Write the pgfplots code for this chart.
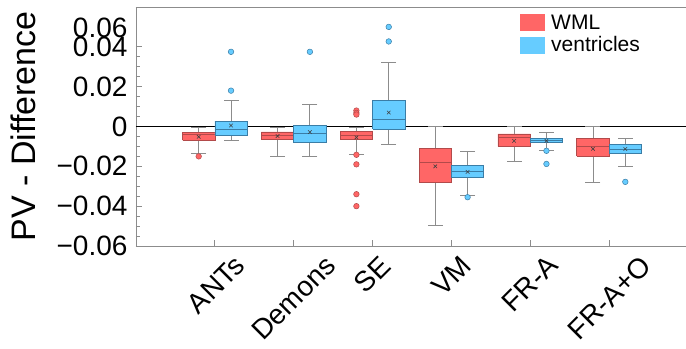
\documentclass[border=0pt]{standalone}
\usepackage{fontspec}
\setmainfont{Liberation Sans}
\usepackage{pgfplots}
\pgfplotsset{compat=1.18}
\definecolor{wred}{HTML}{FF6666}
\definecolor{wredD}{HTML}{B24A4A}
\definecolor{vblue}{HTML}{66CCFF}
\definecolor{vblueD}{HTML}{3A7DA6}
\definecolor{axgray}{HTML}{8C8C8C}
\definecolor{meanc}{HTML}{404040}
% #1 colour, #2 left, #3 centre, #4 right, #5 lower whisker, #6 q1, #7 median, #8 q3, #9 upper whisker
\newcommand{\bp}[9]{%
 \addplot[axgray, line width=0.8pt, forget plot] coordinates {(#3,#5) (#3,#9)};
 \addplot[axgray, line width=0.8pt, only marks, mark=-, mark size=7.5pt, forget plot] coordinates {(#3,#5) (#3,#9)};
 \addplot[fill=#1, draw=#1D, line width=0.7pt, forget plot] coordinates {(#2,#6) (#4,#6) (#4,#8) (#2,#8) (#2,#6)};
 \addplot[draw=#1D, line width=1pt, forget plot] coordinates {(#2,#7) (#4,#7)};
}
\begin{document}
\begin{tikzpicture}
\begin{axis}[
  name=ax,
  scale only axis,
  width=552pt, height=239pt,
  xmin=0, xmax=7, ymin=-0.06, ymax=0.06,
  axis x line*=box, axis y line*=left,
  axis line style={axgray, line width=0.8pt},
  tick style={axgray, line width=0.8pt},
  tick align=inside,
  major tick length=6pt, minor tick length=4pt,
  xtick={1,2,3,4,5,6},
  xticklabels={ANTs,Demons,SE,VM,FR-A,FR-A+O},
  xticklabel style={xshift={{17.7,29.7,6,7.8,15.9,29.5}[\ticknum]}, yshift=-5pt, rotate=45, anchor=north east, font=\fontsize{28}{32}\selectfont, inner sep=2pt},
  xtick pos=bottom,
  ytick={-0.06,-0.04,-0.02,0,0.02,0.04},
  yticklabels={−0.06,−0.04,−0.02,0,0.02,0.04},
  extra y ticks={0.06},
  extra y tick labels={0.06},
  extra y tick style={yticklabel style={yshift=-21pt}},
  yticklabel style={font=\fontsize{28}{32}\selectfont, xshift=-5pt},
  minor y tick num=3,
  ytick pos=left,
  ylabel={PV - Difference},
  every axis y label/.style={at={(axis description cs:0,0.5)}, xshift=-113pt, rotate=90, anchor=center, font=\fontsize{34}{38}\selectfont},
  legend style={at={(rel axis cs:0.692,0.985)}, anchor=north west, draw=none, fill=none,
    font=\fontsize{21}{25}\selectfont, row sep=2pt, column sep=4pt, inner sep=2pt},
  legend cell align=left,
  legend image code/.code={\fill[#1, draw=none] (0pt,-8.5pt) rectangle (25pt,8.5pt);},
]
\addlegendimage{fill=wred}
\addlegendentry{WML}
\addlegendimage{fill=vblue}
\addlegendentry{ventricles}

\addplot[black, line width=1.6pt, forget plot] coordinates {(0,0) (7,0)};

% WML
\bp{wred}{0.59}{0.795}{1.0}{-0.0135}{-0.0070}{-0.0040}{-0.0028}{-0.0005}
\bp{wred}{1.59}{1.795}{2.0}{-0.0150}{-0.0067}{-0.0045}{-0.0027}{-0.0005}
\bp{wred}{2.59}{2.795}{3.0}{-0.0138}{-0.0067}{-0.0045}{-0.0023}{-0.0005}
\bp{wred}{3.59}{3.795}{4.0}{-0.0497}{-0.0282}{-0.0180}{-0.0110}{0.0}
\bp{wred}{4.59}{4.795}{5.0}{-0.0177}{-0.0100}{-0.0053}{-0.0037}{0.0}
\bp{wred}{5.59}{5.795}{6.0}{-0.0282}{-0.0150}{-0.0098}{-0.0058}{0.0}
% ventricles
\bp{vblue}{1.0}{1.205}{1.41}{-0.0072}{-0.0042}{-0.0015}{0.0027}{0.0130}
\bp{vblue}{2.0}{2.205}{2.41}{-0.0150}{-0.0082}{-0.0037}{0.0007}{0.0110}
\bp{vblue}{3.0}{3.205}{3.41}{-0.0088}{-0.0012}{0.0035}{0.0130}{0.0320}
\bp{vblue}{4.0}{4.205}{4.41}{-0.0348}{-0.0257}{-0.0227}{-0.0195}{-0.0123}
\bp{vblue}{5.0}{5.205}{5.41}{-0.0118}{-0.0082}{-0.0070}{-0.0060}{-0.0028}
\bp{vblue}{6.0}{6.205}{6.41}{-0.0202}{-0.0133}{-0.0113}{-0.0092}{-0.0062}

% means
\addplot[only marks, mark=x, mark size=2.5pt, color=meanc, mark options={line width=0.6pt}, forget plot] coordinates {
 (0.795,-0.0052) (1.795,-0.0048) (2.795,-0.0055) (3.795,-0.0200) (4.795,-0.0072) (5.795,-0.0112)
 (1.205,0.0005) (2.205,-0.0028) (3.205,0.0070) (4.205,-0.0228) (5.205,-0.0072) (6.205,-0.0113)};

% outliers
\addplot[only marks, mark=*, mark size=2.8pt, mark options={fill=wred, draw=wredD, line width=0.5pt}, forget plot] coordinates {
 (0.795,-0.0150)
 (2.795,0.0080) (2.795,0.0068) (2.795,0.0060) (2.795,-0.0142) (2.795,-0.0190) (2.795,-0.0340) (2.795,-0.0400)};
\addplot[only marks, mark=*, mark size=2.8pt, mark options={fill=vblue, draw=vblueD, line width=0.5pt}, forget plot] coordinates {
 (1.205,0.0180) (1.205,0.0375)
 (2.205,0.0375)
 (3.205,0.0427) (3.205,0.0500)
 (4.205,-0.0355)
 (5.205,-0.0122) (5.205,-0.0188)
 (6.205,-0.0278)};
\end{axis}
\pgfresetboundingbox
\path[use as bounding box] ([xshift=-136pt,yshift=-103pt]ax.south west) rectangle ([xshift=-2pt,yshift=7pt]ax.north east);
\end{tikzpicture}
\end{document}
